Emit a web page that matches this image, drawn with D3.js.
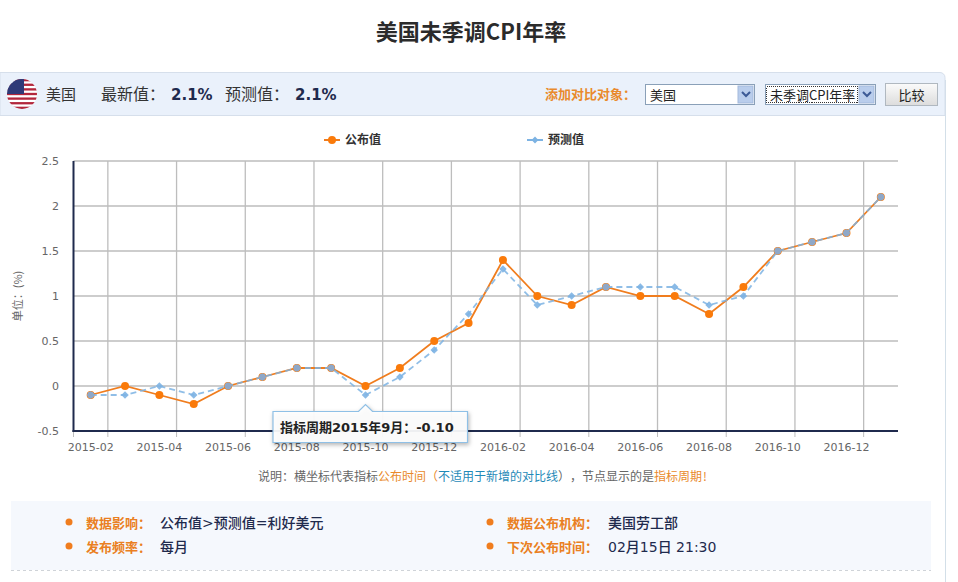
<!DOCTYPE html>
<html lang="zh">
<head>
<meta charset="utf-8">
<title>美国未季调CPI年率</title>
<script src="https://cdn.jsdelivr.net/npm/d3@7/dist/d3.min.js"></script>
<style>
  html, body { margin: 0; padding: 0; background: #fff; overflow: hidden; }
  svg { display: block; font-family: "Noto Sans CJK SC", "Liberation Sans", sans-serif; }
  .latin { font-family: "DejaVu Sans", "Noto Sans CJK SC", sans-serif; }
</style>
</head>
<body>
<svg id="chart" width="958" height="582"></svg>
<script>
const months = [
  "2015-02", "2015-03", "2015-04", "2015-05", "2015-06", "2015-07", "2015-08", "2015-09",
  "2015-10", "2015-11", "2015-12", "2016-01", "2016-02", "2016-03", "2016-04", "2016-05",
  "2016-06", "2016-07", "2016-08", "2016-09", "2016-10", "2016-11", "2016-12", "2017-01"
];
const published = [-0.1, 0, -0.1, -0.2, 0, 0.1, 0.2, 0.2, 0, 0.2, 0.5, 0.7, 1.4, 1.0, 0.9, 1.1, 1.0, 1.0, 0.8, 1.1, 1.5, 1.6, 1.7, 2.1];
const forecast = [-0.1, -0.1, 0, -0.1, 0, 0.1, 0.2, 0.2, -0.1, 0.1, 0.4, 0.8, 1.3, 0.9, 1.0, 1.1, 1.1, 1.1, 0.9, 1.0, 1.5, 1.6, 1.7, 2.1];
const yTicks = [-0.5, 0, 0.5, 1, 1.5, 2, 2.5];

const ORANGE = "#f07d1e";
const BLUE = "#7db3e3";
const NAVY = "#1f2a4d";

const svg = d3.select("#chart");

const margin = { left: 73.5, right: 898, top: 161, bottom: 431 };

const x = d3.scaleBand().domain(months).range([margin.left, margin.right]);
const y = d3.scaleLinear().domain([-0.5, 2.5]).range([margin.bottom, margin.top]);
const xc = (m) => x(m) + x.bandwidth() / 2;

function label(parent, px, py, str, size, fill, weight, anchor) {
  return parent.append("text")
    .attr("x", px).attr("y", py)
    .attr("font-size", size)
    .attr("fill", fill)
    .attr("font-weight", weight || 400)
    .attr("text-anchor", anchor || "start")
    .text(str);
}

// Title
label(svg, 471, 40, "美国未季调CPI年率", 22, "#2b2b2b", 700, "middle");

// Panel frame and header bar
svg.append("path").attr("d", "M945.5 80V582").attr("stroke", "#d3dfe8").attr("fill", "none");
svg.append("path")
  .attr("d", "M0 72.5H940a5 5 0 0 1 5 5V115.5H0Z")
  .attr("fill", "#eaf1fb").attr("stroke", "#d6dfeb");

// Flag
const defs = svg.append("defs");
defs.append("clipPath").attr("id", "flagClip")
  .append("circle").attr("cx", 22).attr("cy", 94).attr("r", 15);
const flag = svg.append("g").attr("clip-path", "url(#flagClip)");
flag.append("rect").attr("x", 7).attr("y", 79).attr("width", 30).attr("height", 30).attr("fill", "#fff");
flag.selectAll("rect.stripe")
  .data(d3.range(7))
  .join("rect")
  .attr("class", "stripe")
  .attr("x", 7).attr("width", 30)
  .attr("y", (d) => 79 + d * 30 / 6.5)
  .attr("height", 30 / 13)
  .attr("fill", "#b2263c");
flag.append("rect").attr("x", 7).attr("y", 79).attr("width", 17).attr("height", 15).attr("fill", "#2f3a78");

label(svg, 46, 100, "美国", 15, "#333");
label(svg, 101, 100, "最新值：", 16, "#333");
label(svg, 171, 100, "2.1%", 15, NAVY, 700).attr("class", "latin");
label(svg, 225, 100, "预测值：", 16, "#333");
label(svg, 295, 100, "2.1%", 15, NAVY, 700).attr("class", "latin");

label(svg, 545, 99, "添加对比对象：", 13, "#e98a2c", 700);

// Dropdowns, drawn as plain boxes
function dropdown(px, w, str) {
  const g = svg.append("g").attr("transform", `translate(${px},84)`);
  g.append("rect").attr("x", 0.5).attr("y", 0.5).attr("width", w).attr("height", 20)
    .attr("fill", "#fff").attr("stroke", "#8aa0b8");
  g.append("rect").attr("x", w - 16).attr("y", 2).attr("width", 15).attr("height", 17)
    .attr("fill", "#b9cdec").attr("stroke", "#a3b9dc");
  g.append("path").attr("d", `M${w - 12} 8l4 4 4-4`).attr("fill", "none")
    .attr("stroke", "#3c5a96").attr("stroke-width", 2);
  label(g, 5, 15.5, str, 13, "#222");
  return g;
}
dropdown(645, 109, "美国");
const dd2 = dropdown(765, 110, "未季调CPI年率");
dd2.append("rect").attr("x", 1.5).attr("y", 2.5).attr("width", 91).attr("height", 16)
  .attr("fill", "none").attr("stroke", "#333").attr("stroke-dasharray", "1,1")
  .attr("shape-rendering", "crispEdges");

// Compare button
const gradient = defs.append("linearGradient").attr("id", "btnFill").attr("x2", 0).attr("y2", 1);
gradient.append("stop").attr("offset", 0).attr("stop-color", "#fbfbfb");
gradient.append("stop").attr("offset", 1).attr("stop-color", "#dcdcdc");
svg.append("rect").attr("x", 885.5).attr("y", 83.5).attr("width", 52).attr("height", 22)
  .attr("fill", "url(#btnFill)").attr("stroke", "#b0b8c0");
label(svg, 911.5, 100, "比较", 13, "#222", 400, "middle");

// Legend
const legend = svg.append("g");
legend.append("path").attr("d", "M324 140H340").attr("stroke", ORANGE).attr("stroke-width", 2);
legend.append("circle").attr("cx", 332).attr("cy", 140).attr("r", 4).attr("fill", "#fa7a0a");
label(legend, 345, 144, "公布值", 12, "#333", 700);
legend.append("path").attr("d", "M527 140H543").attr("stroke", BLUE).attr("stroke-width", 2);
legend.append("path").attr("d", d3.symbol(d3.symbolDiamond2, 30)).attr("transform", "translate(535,140)").attr("fill", BLUE);
label(legend, 548, 144, "预测值", 12, "#333", 700);

// Gridlines
const gridColor = "#bdbdbd";
const chart = svg.append("g");
chart.selectAll("line.hgrid")
  .data(yTicks.filter((d) => d > -0.5))
  .join("line")
  .attr("class", "hgrid")
  .attr("x1", margin.left).attr("x2", margin.right)
  .attr("y1", (d) => y(d)).attr("y2", (d) => y(d))
  .attr("stroke", gridColor)
  .attr("stroke-width", 1.3);
chart.selectAll("line.vgrid")
  .data(months.filter((d, i) => i % 2 === 1))
  .join("line")
  .attr("class", "vgrid")
  .attr("x1", (d) => x(d)).attr("x2", (d) => x(d))
  .attr("y1", margin.top).attr("y2", margin.bottom)
  .attr("stroke", gridColor)
  .attr("stroke-width", 1.3);

// Axes
chart.selectAll("text.ytick")
  .data(yTicks)
  .join("text")
  .attr("class", "ytick latin")
  .attr("x", 59).attr("y", (d) => y(d) + 4)
  .attr("text-anchor", "end")
  .attr("font-size", 11)
  .attr("fill", "#666")
  .text((d) => d);

chart.append("line")
  .attr("x1", margin.left).attr("x2", margin.left)
  .attr("y1", margin.top).attr("y2", margin.bottom + 1)
  .attr("stroke", NAVY).attr("stroke-width", 2);
chart.append("line")
  .attr("x1", margin.left - 1).attr("x2", margin.right)
  .attr("y1", margin.bottom).attr("y2", margin.bottom)
  .attr("stroke", NAVY).attr("stroke-width", 2);

chart.selectAll("line.xmark")
  .data(months.filter((d, i) => i % 2 === 1).concat(months[0]))
  .join("line")
  .attr("class", "xmark")
  .attr("x1", (d) => d === months[0] ? margin.left : x(d))
  .attr("x2", (d) => d === months[0] ? margin.left : x(d))
  .attr("y1", margin.bottom + 1).attr("y2", margin.bottom + 6)
  .attr("stroke", gridColor);

chart.selectAll("text.xtick")
  .data(months.filter((d, i) => i % 2 === 0))
  .join("text")
  .attr("class", "xtick latin")
  .attr("x", xc).attr("y", 451)
  .attr("text-anchor", "middle")
  .attr("font-size", 11)
  .attr("fill", "#666")
  .text((d) => d);

label(svg, 0, 0, "单位：(%)", 11, "#666", 400, "middle")
  .attr("transform", "translate(22,296) rotate(-90)");

// Series
const line = d3.line().x((d) => xc(d.m)).y((d) => y(d.v));
const pubData = months.map((m, i) => ({ m, v: published[i] }));
const fcData = months.map((m, i) => ({ m, v: forecast[i] }));

chart.append("path").datum(pubData).attr("d", line)
  .attr("fill", "none").attr("stroke", ORANGE).attr("stroke-width", 1.8);
chart.selectAll("circle.pub")
  .data(pubData)
  .join("circle")
  .attr("class", "pub")
  .attr("cx", (d) => xc(d.m)).attr("cy", (d) => y(d.v))
  .attr("r", 4).attr("fill", "#fa7a0a");

chart.append("path").datum(fcData).attr("d", line)
  .attr("fill", "none").attr("stroke", BLUE).attr("stroke-width", 1.8)
  .attr("stroke-dasharray", "6,4").attr("stroke-opacity", 0.85);
chart.selectAll("path.fc")
  .data(fcData)
  .join("path")
  .attr("class", "fc")
  .attr("d", d3.symbol(d3.symbolDiamond2, 36))
  .attr("transform", (d) => `translate(${xc(d.m)},${y(d.v)})`)
  .attr("fill", BLUE).attr("fill-opacity", 0.9);

// Where both series agree the markers blend into a grey-blue disc
chart.selectAll("circle.same")
  .data(fcData.filter((d, i) => d.v === published[i]))
  .join("circle")
  .attr("class", "same")
  .attr("cx", (d) => xc(d.m)).attr("cy", (d) => y(d.v))
  .attr("r", 3.4).attr("fill", "#8fa8c8");

// Tooltip on the 2015-10 forecast point
const tipX = xc("2015-10");
const tip = svg.append("g");
tip.append("path")
  .attr("d", `M273 411.5H${tipX - 7}L${tipX} 404.5L${tipX + 7} 411.5H467.5V442.5H273Z`)
  .attr("fill", "#fff").attr("fill-opacity", 0.93)
  .attr("stroke", "#8fc0e6").attr("stroke-width", 1.2)
  .style("filter", "drop-shadow(1px 2px 2px rgba(0,0,0,0.3))");
label(tip, 280, 432, "指标周期2015年9月：-0.10", 13, "#222", 700).attr("class", "latin");

// Note line, each piece placed where the reference has it
const note = svg.append("text").attr("y", 481).attr("font-size", 12);
[["说明：横坐标代表指标", "#666", 258], ["公布时间", "#e98a2c", 378], ["（", "#e98a2c", 426],
 ["不适用于新增的对比线", "#1f8ab8", 438], ["）", "#666", 558], ["，", "#666", 570],
 ["节点显示的是", "#666", 582], ["指标周期", "#e98a2c", 654], ["!", "#e98a2c", 703]].forEach(([str, fill, px]) => {
  note.append("tspan").attr("x", px).attr("fill", fill).text(str);
});

// Info box
svg.append("rect").attr("x", 11).attr("y", 501).attr("width", 920).attr("height", 69).attr("fill", "#f5f8fd");
svg.append("path").attr("d", "M11 570.5H931").attr("stroke", "#cfd3d8").attr("stroke-dasharray", "3,3");

const infoRows = [
  [69, 523, "数据影响：", 160, "公布值>预测值=利好美元"],
  [69, 547, "发布频率：", 160, "每月"],
  [490, 523, "数据公布机构：", 608, "美国劳工部"],
  [490, 547, "下次公布时间：", 608, "02月15日 21:30"]
];
infoRows.forEach(([px, py, key, vx, val]) => {
  svg.append("circle").attr("cx", px).attr("cy", py - 1).attr("r", 3.5).attr("fill", ORANGE);
  label(svg, px + 17, py + 5, key, 13, "#ea7f22", 700);
  label(svg, vx, py + 5, val, 14, NAVY, 500).attr("class", "latin");
});
</script>
</body>
</html>
